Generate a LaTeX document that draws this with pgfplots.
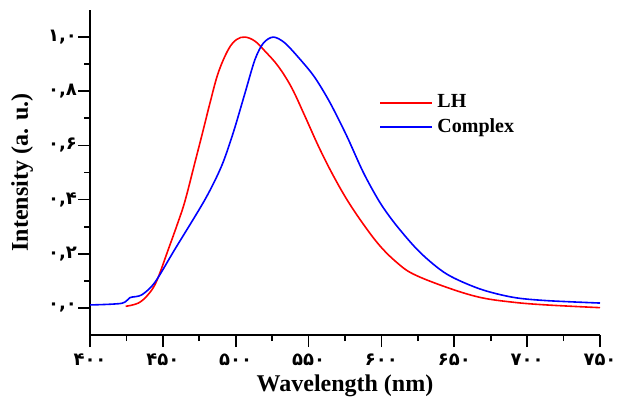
\documentclass[border=0pt]{standalone}
\usepackage{fontspec}
\setmainfont{Liberation Serif}
\newfontfamily\fa{DejaVu Sans}
\usepackage{pgfplots}
\pgfplotsset{compat=1.18}
\begin{document}
\begin{tikzpicture}
\begin{axis}[
  scale only axis,
  width=255pt, height=162.5pt,
  axis lines*=left,
  xmin=400, xmax=750, ymin=-0.1, ymax=1.1,
  xtick={400,450,500,550,600,650,700,750},
  xticklabels={۴۰۰,۴۵۰,۵۰۰,۵۵۰,۶۰۰,۶۵۰,۷۰۰,۷۵۰},
  ytick={0,0.2,0.4,0.6,0.8,1.0},
  yticklabels={{۰,۰},{۰,۲},{۰,۴},{۰,۶},{۰,۸},{۱,۰}},
  minor x tick num=1, minor y tick num=1,
  tick align=outside,
  major tick length=6pt, minor tick length=3pt,
  tick style={line width=0.9pt, black},
  axis line style={line width=1pt},
  tick label style={font=\fa\bfseries\small},
  yticklabel style={xshift=3pt},
  xlabel={\bfseries Wavelength (nm)},
  ylabel={\bfseries Intensity (a. u.)},
  label style={font=\large},
  xlabel style={at={(axis description cs:0.5,-0.155)}, anchor=center},
  ylabel style={at={(axis description cs:-0.133,0.5)}, anchor=center},
  legend style={draw=none, fill=none, at={(0.555,0.765)}, anchor=north west,
    font=\bfseries},
  legend cell align=left,
  legend image code/.code={\draw[#1, line width=1pt] (0pt,0pt) -- (26pt,0pt);},
]
\addplot[red, line width=0.8pt, smooth, tension=0.6] coordinates {
(424.5,0.006) (433.2,0.018) (440,0.05) (445.8,0.10) (453.8,0.217) (460,0.31) (465.2,0.395)
(472,0.537) (477.8,0.659) (482.4,0.758) (488,0.868) (494.9,0.954) (500.6,0.991)
(506.4,1.0) (513.2,0.985) (520.1,0.948) (529.2,0.892) (538.4,0.813) (547.5,0.708)
(556.7,0.598) (565.8,0.50) (576.2,0.401) (587.6,0.309) (599,0.229) (610.5,0.168)
(621.9,0.125) (644.8,0.076) (667.6,0.039) (690.5,0.021) (713.4,0.011) (750,0.001)};
\addlegendentry{LH}
\addplot[blue, line width=0.8pt, smooth, tension=0.5] coordinates {
(400,0.011) (421.7,0.017) (427.4,0.038) (435.4,0.048) (444.6,0.095) (458.3,0.217)
(478.9,0.40) (490.3,0.524) (498.3,0.647) (506.4,0.794) (513.2,0.917) (519,0.978)
(525.8,1.0) (533.8,0.978) (545.3,0.911) (554.4,0.85) (564.7,0.758) (576.2,0.635)
(587.6,0.50) (599,0.389) (610.5,0.303) (626.5,0.205) (644.8,0.125) (667.6,0.07)
(690.5,0.039) (713.4,0.027) (750,0.018)};
\addlegendentry{Complex}
\end{axis}
\pgfresetboundingbox
\path ([xshift=-45pt,yshift=-34pt]current axis.south west)
  rectangle ([xshift=8.5pt,yshift=5pt]current axis.north east);
\end{tikzpicture}
\end{document}
